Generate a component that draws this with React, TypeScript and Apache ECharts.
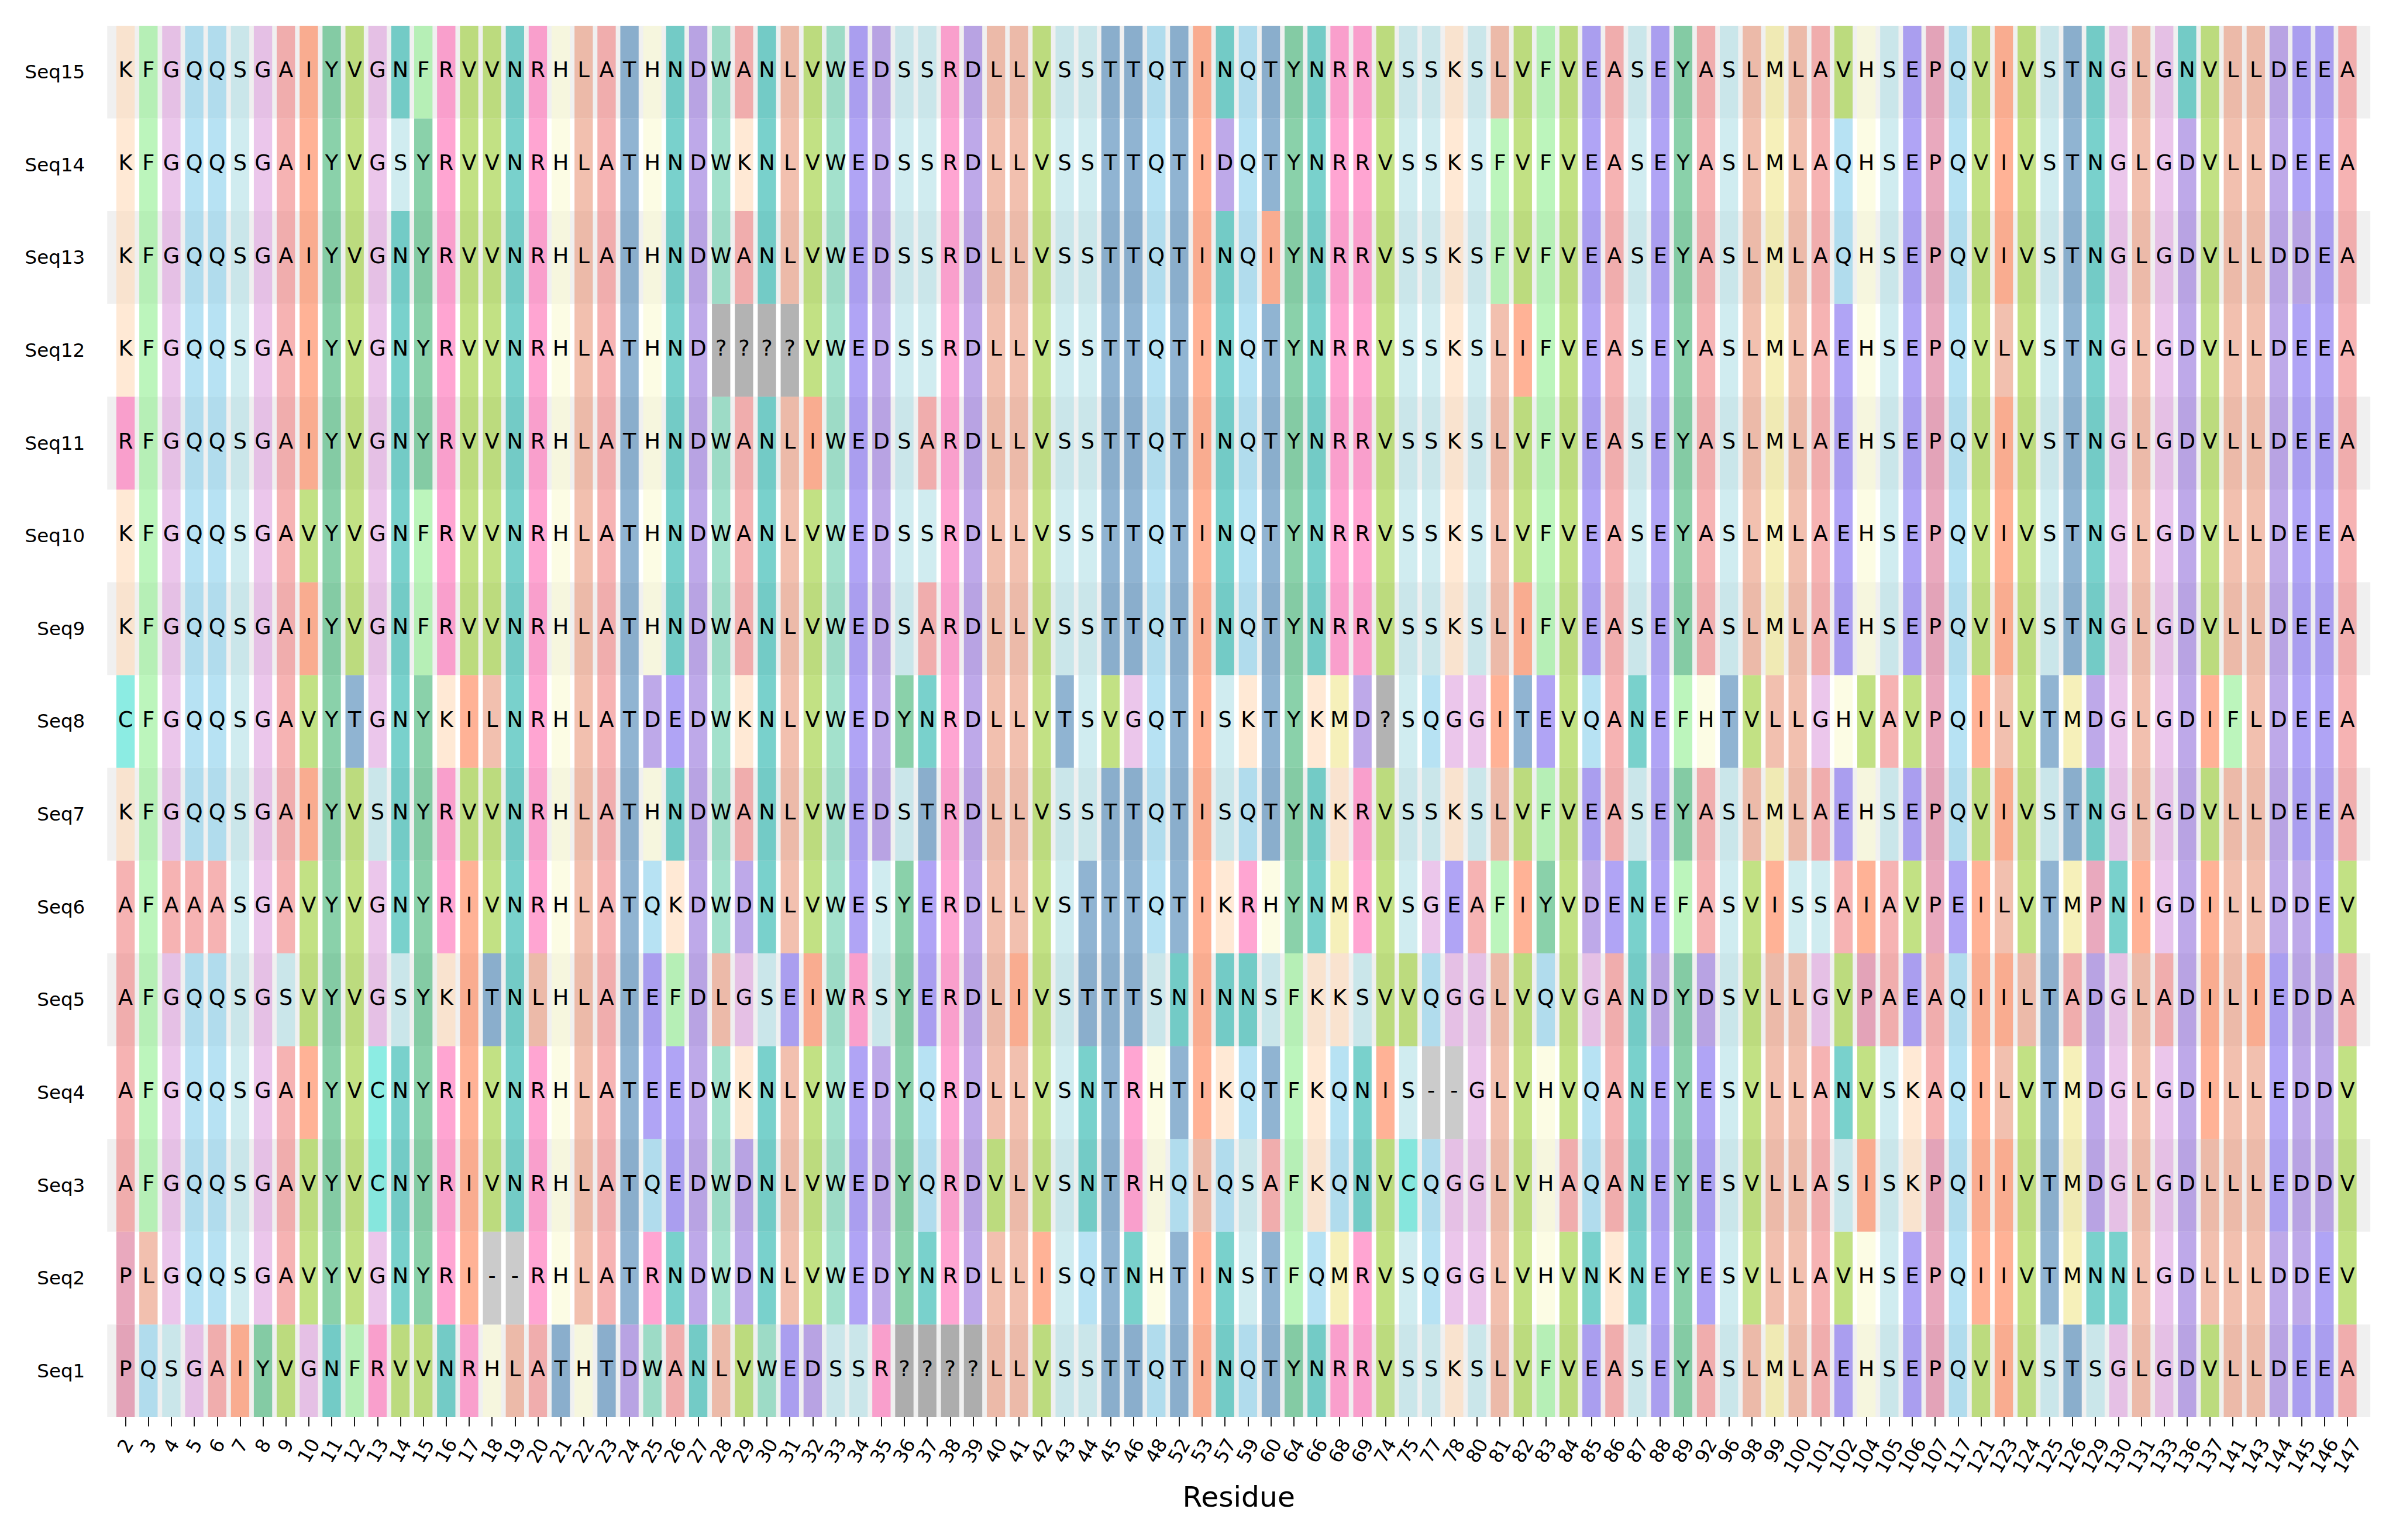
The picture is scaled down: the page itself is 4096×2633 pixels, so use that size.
import { useEffect, useRef } from "react";
import * as echarts from "echarts";

const S = 0.975;
const FONT = "'DejaVu Sans', sans-serif";

// Residue positions (x tick labels)
const positions = [
  "2", "3", "4", "5", "6", "7", "8", "9", "10", "11", "12", "13", "14", "15", "16", "17", "18", "19", "20", "21", "22", "23", "24", "25",
  "26", "27", "28", "29", "30", "31", "32", "33", "34", "35", "36", "37", "38", "39", "40", "41", "42", "43", "44", "45", "46", "48", "52", "53", "57",
  "59", "60", "64", "66", "68", "69", "74", "75", "77", "78", "80", "81", "82", "83", "84", "85", "86", "87", "88", "89", "92", "96", "98", "99",
  "100", "101", "102", "104", "105", "106", "107", "117", "121", "123", "124", "125", "126", "129", "130", "131", "133", "136", "137", "141", "143", "144", "145", "146", "147",
];

// Sequence names (bottom to top)
const seqNames = ["Seq1", "Seq2", "Seq3", "Seq4", "Seq5", "Seq6", "Seq7", "Seq8", "Seq9", "Seq10", "Seq11", "Seq12", "Seq13", "Seq14", "Seq15"];

// Aligned residues, one string per sequence
const seq1 = "PQSGAIYVGNFRVVNRHLATHTDW" + "ANLVWEDSSR????LLVSSTTQTIN" + "QTYNRRVSSKSLVFVEASEYASLM" + "LAEHSEPQVIVSTSGLGDVLLDEEA";
const seq2 = "PLGQQSGAVYVGNYRI--RHLATR" + "NDWDNLVWEDYNRDLLISQTNHTIN" + "STFQMRVSQGGLVHVNKNEYESVL" + "LAVHSEPQIIVTMNNLGDLLLDDEV";
const seq3 = "AFGQQSGAVYVCNYRIVNRHLATQ" + "EDWDNLVWEDYQRDVLVSNTRHQLQ" + "SAFKQNVCQGGLVHAQANEYESVL" + "LASISKPQIIVTMDGLGDLLLEDDV";
const seq4 = "AFGQQSGAIYVCNYRIVNRHLATE" + "EDWKNLVWEDYQRDLLVSNTRHTIK" + "QTFKQNIS--GLVHVQANEYESVL" + "LANVSKAQILVTMDGLGDILLEDDV";
const seq5 = "AFGQQSGSVYVGSYKITNLHLATE" + "FDLGSEIWRSYERDLIVSTTTSNIN" + "NSFKKSVVQGGLVQVGANDYDSVL" + "LGVPAEAQIILTADGLADILIEDDA";
const seq6 = "AFAAASGAVYVGNYRIVNRHLATQ" + "KDWDNLVWESYERDLLVSTTTQTIK" + "RHYNMRVSGEAFIYVDENEFASVI" + "SSAIAVPEILVTMPNIGDILLDDEV";
const seq7 = "KFGQQSGAIYVSNYRVVNRHLATH" + "NDWANLVWEDSTRDLLVSSTTQTIS" + "QTYNKRVSSKSLVFVEASEYASLM" + "LAEHSEPQVIVSTNGLGDVLLDEEA";
const seq8 = "CFGQQSGAVYTGNYKILNRHLATD" + "EDWKNLVWEDYNRDLLVTSVGQTIS" + "KTYKMD?SQGGITEVQANEFHTVL" + "LGHVAVPQILVTMDGLGDIFLDEEA";
const seq9 = "KFGQQSGAIYVGNFRVVNRHLATH" + "NDWANLVWEDSARDLLVSSTTQTIN" + "QTYNRRVSSKSLIFVEASEYASLM" + "LAEHSEPQVIVSTNGLGDVLLDEEA";
const seq10 = "KFGQQSGAVYVGNFRVVNRHLATH" + "NDWANLVWEDSSRDLLVSSTTQTIN" + "QTYNRRVSSKSLVFVEASEYASLM" + "LAEHSEPQVIVSTNGLGDVLLDEEA";
const seq11 = "RFGQQSGAIYVGNYRVVNRHLATH" + "NDWANLIWEDSARDLLVSSTTQTIN" + "QTYNRRVSSKSLVFVEASEYASLM" + "LAEHSEPQVIVSTNGLGDVLLDEEA";
const seq12 = "KFGQQSGAIYVGNYRVVNRHLATH" + "ND????VWEDSSRDLLVSSTTQTIN" + "QTYNRRVSSKSLIFVEASEYASLM" + "LAEHSEPQVLVSTNGLGDVLLDEEA";
const seq13 = "KFGQQSGAIYVGNYRVVNRHLATH" + "NDWANLVWEDSSRDLLVSSTTQTIN" + "QIYNRRVSSKSFVFVEASEYASLM" + "LAQHSEPQVIVSTNGLGDVLLDDEA";
const seq14 = "KFGQQSGAIYVGSYRVVNRHLATH" + "NDWKNLVWEDSSRDLLVSSTTQTID" + "QTYNRRVSSKSFVFVEASEYASLM" + "LAQHSEPQVIVSTNGLGDVLLDEEA";
const seq15 = "KFGQQSGAIYVGNFRVVNRHLATH" + "NDWANLVWEDSSRDLLVSSTTQTIN" + "QTYNRRVSSKSLVFVEASEYASLM" + "LAVHSEPQVIVSTNGLGNVLLDEEA";

const sequences = [seq1, seq2, seq3, seq4, seq5, seq6, seq7, seq8, seq9, seq10, seq11, seq12, seq13, seq14, seq15];

// Residue colour scheme
const residueColors: Record<string, string> = {
  A: "#F08080",
  C: "#40E0D0",
  D: "#9370DB",
  E: "#7B68EE",
  F: "#90EE90",
  G: "#DDA0DD",
  H: "#FAFAD2",
  I: "#FF7F50",
  K: "#FFDAB9",
  L: "#E9967A",
  M: "#F0E68C",
  N: "#20B2AA",
  P: "#DB7093",
  Q: "#87CEEB",
  R: "#FF69B4",
  S: "#B0E0E6",
  T: "#4682B4",
  V: "#9ACD32",
  W: "#66CDAA",
  Y: "#3CB371",
  "?": "#808080",
  "-": "#A9A9A9",
};

export default function App() {
  const ref = useRef<HTMLDivElement>(null);

  useEffect(() => {
    document.body.style.margin = "0";
    if (!ref.current) return;
    const chart = echarts.init(ref.current, undefined, { renderer: "svg" });

    const cells: { col: number; row: number; letter: string }[] = [];
    sequences.forEach((s, r) => {
      s.split("").forEach((ch, c) => cells.push({ col: c, row: r, letter: ch }));
    });
    const stripeRows = seqNames.map((_, i) => i).filter((i) => i % 2 === 0);
    const tickValues = positions.map((_, i) => i);
    const byLen = (n: number) => tickValues.filter((i) => positions[i].length === n);

    const labelBase = {
      rotate: 60,
      align: "center",
      verticalAlign: "middle",
      fontSize: 33.4 * S,
      color: "#000",
      fontFamily: FONT,
      formatter: (v: number) => positions[Math.round(v)] ?? "",
    };
    const hiddenAxis = (values: number[], margin: number) => ({
      type: "value",
      position: "bottom",
      offset: 0,
      gridIndex: 0,
      min: -0.8,
      max: positions.length,
      axisLine: { show: false },
      splitLine: { show: false },
      axisTick: { show: false },
      axisLabel: { ...labelBase, customValues: values, margin },
    });

    const option: any = {
      animation: false,
      backgroundColor: "#ffffff",
      grid: { left: 188 * S, right: 45 * S, top: 45 * S, bottom: 215.3 * S, containLabel: false },
      xAxis: [
        {
          type: "value",
          position: "bottom",
          offset: 0,
          min: -0.8,
          max: positions.length,
          name: "Residue",
          nameLocation: "middle",
          nameGap: 111,
          nameTextStyle: { fontSize: 50 * S, color: "#000", fontFamily: FONT },
          axisLine: { show: false },
          splitLine: { show: false },
          axisTick: {
            show: true,
            customValues: tickValues,
            length: 16 * S,
            lineStyle: { color: "#000", width: 1.8 },
          },
          axisLabel: { ...labelBase, customValues: byLen(2), margin: 57.3 },
        },
        hiddenAxis(byLen(1), 49),
        hiddenAxis(byLen(3), 66),
      ],
      yAxis: {
        type: "category",
        data: seqNames,
        axisLine: { show: false },
        axisTick: { show: false },
        splitLine: { show: false },
        axisLabel: { fontSize: 33.4 * S, color: "#000", fontFamily: FONT, margin: 38 },
      },
      series: [
        {
          type: "custom",
          silent: true,
          z: 1,
          xAxisIndex: 0,
          encode: { x: 0, y: 1 },
          data: stripeRows.map((r) => [0, r]),
          renderItem: (params: any, api: any) => {
            const c = api.coord([0, api.value(1)]);
            const h = api.size([0, 1])[1];
            const cs = params.coordSys;
            return {
              type: "rect",
              shape: { x: cs.x, y: c[1] - h / 2, width: cs.width, height: h },
              style: { fill: "#f0f0f0" },
            };
          },
        },
        {
          type: "custom",
          silent: true,
          z: 2,
          xAxisIndex: 0,
          encode: { x: 0, y: 1 },
          data: cells.map((d) => [d.col, d.row]),
          renderItem: (params: any, api: any) => {
            const cell = cells[params.dataIndex];
            const c = api.coord([api.value(0), api.value(1)]);
            const sz = api.size([0.8, 1]);
            return {
              type: "group",
              children: [
                {
                  type: "rect",
                  shape: { x: c[0] - sz[0] / 2, y: c[1] - sz[1] / 2, width: sz[0], height: sz[1] },
                  style: { fill: residueColors[cell.letter] || "#cccccc", opacity: 0.6 },
                },
                {
                  type: "text",
                  x: c[0],
                  y: c[1] - 3.4,
                  style: {
                    text: cell.letter,
                    align: "center",
                    verticalAlign: "middle",
                    fontSize: 37.6 * S,
                    fontFamily: FONT,
                    fill: "#000",
                  },
                },
              ],
            };
          },
        },
      ],
    };

    chart.setOption(option);
    return () => chart.dispose();
  }, []);

  return <div ref={ref} style={{ width: 4096, height: 2633 }} />;
}
